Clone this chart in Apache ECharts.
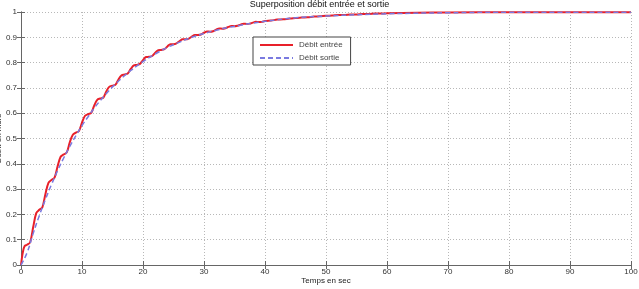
<!DOCTYPE html>
<html><head><meta charset="utf-8">
<script src="https://cdn.jsdelivr.net/npm/echarts@6/dist/echarts.min.js"></script>
<style>html,body{margin:0;padding:0;background:#fff}#c{width:639px;height:289px}</style>
</head><body><div id="c"></div>
<script>
var titleText = "Superposition débit entrée et sortie";
var xName = "Temps en sec";
var yName = "Débit en m3/s";
var seriesNames = ["Débit entrée", "Débit sortie"];

var redT = [0,0.3,0.6,1,1.5,2,2.5,3,3.5,4,4.5,5,5.5,6,6.5,7,7.5,8,8.5,9,9.5,10,10.5,11,11.5,12,12.5,13,13.5,14,14.5,15,15.5,16,16.5,17,17.5,18,18.5,19,19.5,20,20.5,21,21.5,22,22.5,23,23.5,24,24.5,25,25.5,26,26.5,27,27.5,28,28.5,29,29.5,30,30.5,31,31.5,32,32.5,33,33.5,34,34.5,35,35.5,36,36.5,37,37.5,38,38.5,39,39.5,40,41,42,43,44,45,46,47,48,49,50,51,52,53,54,55,56,57,58,59,60,65,70,80,90,100];
var redV = [0,0.05,0.075,0.08,0.09,0.15,0.205,0.218,0.228,0.28,0.325,0.336,0.345,0.39,0.428,0.437,0.445,0.485,0.515,0.523,0.53,0.563,0.59,0.596,0.601,0.63,0.653,0.658,0.662,0.687,0.705,0.709,0.713,0.734,0.75,0.753,0.757,0.775,0.789,0.791,0.795,0.81,0.822,0.823,0.826,0.839,0.849,0.85,0.853,0.864,0.873,0.873,0.876,0.885,0.892,0.892,0.895,0.903,0.909,0.909,0.911,0.918,0.923,0.922,0.924,0.930,0.935,0.934,0.936,0.941,0.945,0.944,0.946,0.950,0.954,0.953,0.954,0.958,0.961,0.960,0.961,0.964,0.966,0.970,0.971,0.974,0.976,0.978,0.979,0.982,0.983,0.985,0.986,0.988,0.988,0.990,0.990,0.992,0.992,0.994,0.994,0.995,0.997,0.998,0.999,0.999,0.999];

var blueT = [0,1,2,3,4,5,6,7,8,9,10,11,12,13,14,15,16,17,18,19,20,22,24,26,28,30,32,34,36,38,40,45,50,55,60,70,80,100];
var blueV = [0,0.049,0.125,0.195,0.259,0.318,0.373,0.423,0.469,0.511,0.551,0.586,0.620,0.650,0.678,0.704,0.727,0.749,0.769,0.787,0.804,0.834,0.860,0.881,0.900,0.915,0.928,0.939,0.948,0.956,0.963,0.977,0.984,0.989,0.993,0.997,0.999,0.999];

function pairs(t, v){ return t.map(function(x,i){ return [x, v[i]]; }); }

var font = "Liberation Sans";
var txt = "#333";
var chart = echarts.init(document.getElementById('c'), null, {renderer:'canvas'});
var gridLine = {show:true, lineStyle:{color:'#b8b8b8', type:[1,2], width:1}};
chart.setOption({
  animation:false,
  backgroundColor:'#fff',
  title:{text:titleText, left:'center', top:0, padding:0,
    textStyle:{fontFamily:font, fontSize:9, fontWeight:'normal', color:'#111'}},
  legend:{
    orient:'vertical', left:253, top:37, padding:[4,8,3,6],
    itemWidth:33, itemHeight:8, itemGap:5,
    borderColor:'#444', borderWidth:1, backgroundColor:'#fff',
    itemStyle:{opacity:0},
    textStyle:{fontFamily:font, fontSize:8, color:'#444', padding:[0,0,0,1]},
    data:[{name:seriesNames[0]},{name:seriesNames[1]}]
  },
  grid:{left:21, right:8, top:12, bottom:24, containLabel:false, outerBoundsMode:'none'},
  xAxis:[{
    type:'value', min:0, max:100, interval:10,
    name:xName, nameLocation:'middle', nameGap:12, nameMoveOverlap:false,
    nameTextStyle:{fontFamily:font, fontSize:8, color:'#222'},
    axisLine:{lineStyle:{color:'#666'}},
    axisTick:{inside:true, length:4, lineStyle:{color:'#666'}},
    axisLabel:{fontFamily:font, fontSize:8, color:txt, margin:3},
    splitLine:gridLine
  },{
    type:'value', min:0, max:100, interval:10, position:'top',
    axisLine:{lineStyle:{color:'#666'}},
    axisTick:{inside:true, length:4, lineStyle:{color:'#666'}},
    axisLabel:{show:false}, splitLine:{show:false}
  }],
  yAxis:[{
    type:'value', min:0, max:1, interval:0.1,
    name:yName, nameLocation:'middle', nameGap:18, nameMoveOverlap:false,
    nameTextStyle:{fontFamily:font, fontSize:8, color:'#222'},
    axisLine:{show:true, lineStyle:{color:'#666'}},
    axisTick:{show:true, inside:true, length:4, lineStyle:{color:'#666'}},
    axisLabel:{fontFamily:font, fontSize:8, color:txt, margin:4,
      formatter:function(v){ return v===0?'0':(v===1?'1':String(Math.round(v*10)/10)); }},
    splitLine:gridLine
  },{
    type:'value', min:0, max:1, interval:0.1, position:'right',
    axisLine:{show:true, lineStyle:{color:'#666'}},
    axisTick:{show:true, inside:true, length:4, lineStyle:{color:'#666'}},
    axisLabel:{show:false}, splitLine:{show:false}
  }],
  series:[{
    name:seriesNames[0], type:'line', symbol:'none', smooth:0.35,
    data:pairs(redT, redV),
    lineStyle:{color:'#e8202a', width:2}, itemStyle:{color:'#e8202a'}, z:3
  },{
    name:seriesNames[1], type:'line', symbol:'none', smooth:true,
    data:pairs(blueT, blueV),
    lineStyle:{color:'#7a7ae0', width:1.5, type:[5,3]}, itemStyle:{color:'#7a7ae0'}, z:4
  }]
});
</script></body></html>
